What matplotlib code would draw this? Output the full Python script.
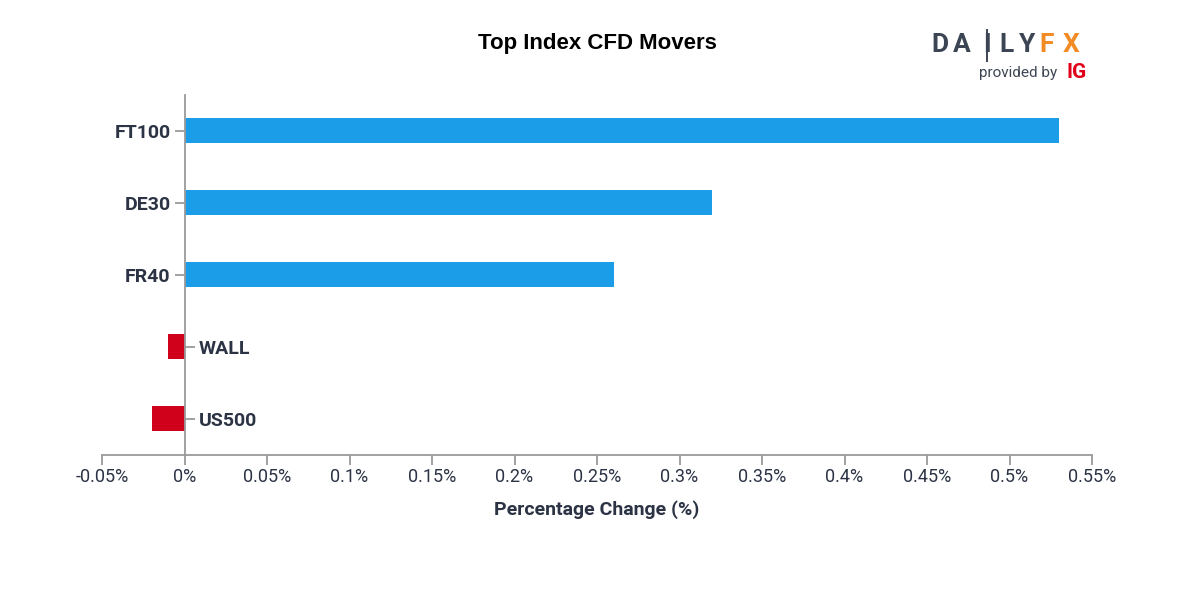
import matplotlib
matplotlib.use('Agg')
import matplotlib.pyplot as plt
from matplotlib.lines import Line2D
from matplotlib.ticker import FuncFormatter, MultipleLocator

### DATA ###
markets = ['FT100', 'DE30', 'FR40', 'WALL', 'US500']
changes = [0.53, 0.32, 0.26, -0.01, -0.02]

### STYLE ###
BLUE = '#1b9de7'
RED = '#d0021b'
TEXT = '#2b3344'
GREY = '#9a9a9a'
LOGO_GREY = '#3c4553'
LOGO_ORANGE = '#f28b24'
plt.rcParams['font.family'] = ['Roboto', 'DejaVu Sans']


# Format percent ticks the way the source does (0%, 0.05%, 0.1%)
def pct(x, pos):
    s = f'{x:.2f}'.rstrip('0').rstrip('.')
    if s in ('-0', ''):
        s = '0'
    return s + '%'


# Draw the DailyFX logo in the top right corner
def draw_logo(fig):
    letters = ['D', 'A', 'I', 'L', 'Y', 'F', 'X']
    centres = [940, 962, 986.5, 1007, 1027.5, 1046.5, 1071]
    for ch, cx in zip(letters, centres):
        col = LOGO_ORANGE if ch in 'FX' else LOGO_GREY
        fig.text(cx / 1200, 1 - 45.5 / 600, ch, ha='center', va='center',
                 fontsize=19, fontweight='bold', color=col)
    # candle wick through the I
    fig.add_artist(Line2D([986.5 / 1200] * 2, [1 - 30 / 600, 1 - 61 / 600],
                          color=LOGO_GREY, linewidth=1.4))
    fig.text(1057 / 1200, 1 - 73 / 600, 'provided by', ha='right', va='center',
             fontsize=11, color=LOGO_GREY)
    fig.text(1066 / 1200, 1 - 73 / 600, 'IG', ha='left', va='center',
             fontsize=15, fontweight='bold', color='#e1001a')


def main():
    fig = plt.figure(figsize=(12, 6), dpi=100)
    ax = fig.add_axes([0.085, 0.2425, 0.825, 0.6])

    ypos = list(range(len(markets)))
    colors = [BLUE if v >= 0 else RED for v in changes]
    ax.barh(ypos, changes, height=0.36, color=colors, zorder=2)

    ax.set_xlim(-0.05, 0.55)
    ax.set_ylim(len(markets) - 0.5, -0.5)
    ax.xaxis.set_major_locator(MultipleLocator(0.05))
    ax.xaxis.set_major_formatter(FuncFormatter(pct))

    # spines: left axis sits at zero, right spine hidden at zero for the right-side ticks
    ax.spines['left'].set_position(('data', 0))
    ax.spines['right'].set_position(('data', 0))
    ax.spines['right'].set_visible(False)
    ax.spines['top'].set_visible(False)
    for sp in ('left', 'bottom'):
        ax.spines[sp].set_color(GREY)
        ax.spines[sp].set_linewidth(1.3)

    ax.set_yticks(ypos)
    ax.set_yticklabels(markets)
    ax.tick_params(axis='x', length=7, width=1.3, color=GREY, labelsize=13,
                   labelcolor=TEXT, pad=3)
    ax.tick_params(axis='y', length=7, width=1.3, color=GREY, labelsize=14,
                   labelcolor=TEXT, pad=3, right=True, labelright=True)
    for tick, v in zip(ax.yaxis.get_major_ticks(), changes):
        neg = v < 0
        tick.tick1line.set_visible(not neg)
        tick.label1.set_visible(not neg)
        tick.tick2line.set_visible(neg)
        tick.label2.set_visible(neg)
        tick.label1.set_fontweight('bold')
        tick.label2.set_fontweight('bold')

    ax.set_xlabel('Percentage Change (%)', fontsize=14, fontweight='bold',
                  color=TEXT, labelpad=10)

    fig.text(0.4975, 1 - 44 / 600, 'Top Index CFD Movers', ha='center', va='center',
             fontsize=16, fontweight='bold', color='black',
             family=['Liberation Sans', 'DejaVu Sans'])

    draw_logo(fig)

    fig.savefig('out.png', dpi=100, facecolor='white')


if __name__ == '__main__':
    main()
